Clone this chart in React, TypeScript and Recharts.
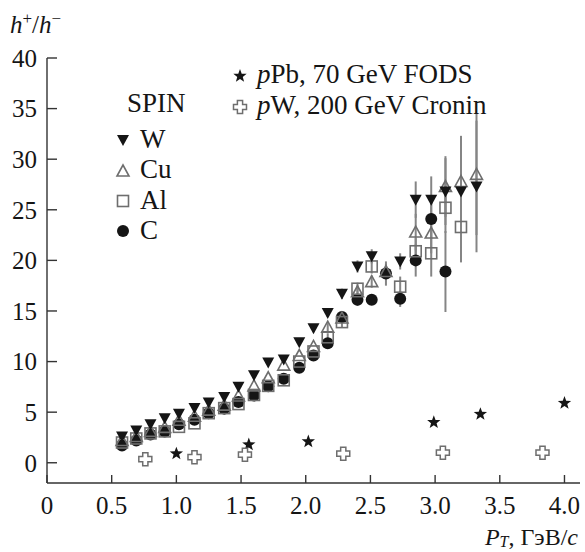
import { ScatterChart, Scatter, XAxis, YAxis, ErrorBar } from 'recharts';

// SPIN p_T bins, GeV/c
const ptSpin = [0.58, 0.69, 0.8, 0.91, 1.02, 1.14, 1.25, 1.37, 1.48, 1.6, 1.71, 1.83, 1.95, 2.06, 2.17, 2.28, 2.4, 2.51, 2.62, 2.73, 2.85, 2.97, 3.08, 3.2, 3.32];

const ratioW = [2.6, 3.2, 3.8, 4.4, 4.85, 5.4, 5.95, 6.5, 7.5, 8.65, 9.9, 10.2, 11.9, 13.3, 14.8, 16.7, 19.4, 20.4, null, 19.9, 26.0, 26.0, 26.8, 26.8, 27.3];
const ratioCu = [2.2, 2.6, 3.1, 3.5, 4.2, 4.6, 5.2, 5.7, 6.6, 7.6, 8.4, 9.65, 10.6, 11.5, 13.4, 14.3, 16.9, 17.9, 18.9, null, 22.8, 22.7, 27.3, 27.8, 28.5];
const ratioAl = [2.0, 2.4, 2.9, 3.1, 3.55, 3.9, 4.9, 5.4, 5.8, 6.7, 7.6, 8.15, 10.0, 11.0, 12.4, 13.9, 17.2, 19.4, null, 17.4, 20.9, 20.7, 25.2, 23.3, null];
const ratioC = [1.7, 2.2, 2.8, 3.1, 3.8, 4.25, 4.9, 5.35, 6.0, 6.65, 7.55, 8.3, 9.4, 10.6, 11.8, 14.4, 16.1, 16.1, 18.7, 16.2, 20.0, 24.1, 18.9, null, null];

const errW = [0, 0, 0, 0, 0, 0, 0, 0, 0, 0, 0, 0, 0, 0, 0.4, 0.5, 0.6, 0.7, 0, 0.8, 1.8, 2.3, 3.3, 5.5, 6.5];
const errCu = [0, 0, 0, 0, 0, 0, 0, 0, 0, 0, 0, 0, 0, 0, 0.4, 0.5, 0.6, 0.6, 0.8, 0, 1.8, 2.0, 3.0, 4.5, 6.0];
const errAl = [0, 0, 0, 0, 0, 0, 0, 0, 0, 0, 0, 0, 0, 0, 0.4, 0.5, 0.6, 0.7, 0, 1.0, 1.3, 2.3, 2.5, 3.5, 0];
const errC = [0, 0, 0, 0, 0, 0, 0, 0, 0, 0, 0, 0, 0, 0, 0.4, 0.5, 0.6, 0.5, 1.2, 0.8, 1.6, 2.0, 4.0, 0, 0];

// pPb 70 GeV FODS
const ptFods = [1.0, 1.56, 2.02, 2.99, 3.35, 4.0];
const ratioFods = [0.9, 1.8, 2.1, 4.0, 4.8, 5.9];

// pW 200 GeV Cronin
const ptCronin = [0.76, 1.14, 1.53, 2.29, 3.06, 3.83];
const ratioCronin = [0.35, 0.55, 0.8, 0.9, 1.0, 1.0];

const xTicks = [0, 0.5, 1, 1.5, 2, 2.5, 3, 3.5, 4];
const yTicks = [0, 5, 10, 15, 20, 25, 30, 35, 40];

const INK = '#151515';
const GREY = '#6e6e6e';
const FONT = "'Liberation Serif', 'DejaVu Serif', serif";

function spinSeries(ys: (number | null)[], errs: number[]) {
  return ptSpin.flatMap((pt, i) => (ys[i] == null ? [] : [{ pt, ratio: ys[i], err: errs[i] }]));
}
function plain(xs: number[], ys: number[]) {
  return xs.map((pt, i) => ({ pt, ratio: ys[i] }));
}

const DownTri = ({ cx, cy }: any) => (
  <path d={`M${cx - 6},${cy - 5} L${cx + 6},${cy - 5} L${cx},${cy + 6} Z`} fill={INK} />
);
const UpTri = ({ cx, cy }: any) => (
  <path d={`M${cx - 6},${cy + 5} L${cx + 6},${cy + 5} L${cx},${cy - 6} Z`} fill="none" stroke={GREY} strokeWidth={1.6} />
);
const Square = ({ cx, cy }: any) => (
  <rect x={cx - 5.5} y={cy - 5.5} width={11} height={11} fill="none" stroke={GREY} strokeWidth={1.6} />
);
const Dot = ({ cx, cy }: any) => <circle cx={cx} cy={cy} r={6} fill={INK} />;

const Star = ({ cx, cy }: any) => {
  const pts: string[] = [];
  for (let k = 0; k < 10; k++) {
    const r = k % 2 === 0 ? 7 : 2.9;
    const a = -Math.PI / 2 + (k * Math.PI) / 5;
    pts.push(`${cx + r * Math.cos(a)},${cy + r * Math.sin(a)}`);
  }
  return <polygon points={pts.join(' ')} fill={INK} />;
};
const Cross = ({ cx, cy }: any) => {
  const a = 2.6, b = 6.5;
  const d = `M${cx - a},${cy - b} H${cx + a} V${cy - a} H${cx + b} V${cy + a} H${cx + a} V${cy + b} H${cx - a} V${cy + a} H${cx - b} V${cy - a} H${cx - a} Z`;
  return <path d={d} fill="#fff" stroke={GREY} strokeWidth={1.5} />;
};

const tickStyle = { fill: INK, fontSize: 25, fontFamily: FONT };
const lineStyle = { stroke: '#333', strokeWidth: 1.4 };

export default function App() {
  return (
    <div style={{ position: 'relative', width: 585, height: 552, fontFamily: FONT, color: INK }}>
      <style>{'body{margin:0}'}</style>
      <ScatterChart width={585} height={552} margin={{ top: 58, right: 5, bottom: 38, left: 7 }}>
        <XAxis
          type="number"
          dataKey="pt"
          domain={[0, 4.12]}
          ticks={xTicks}
          allowDataOverflow
          height={31}
          tickFormatter={(v: number) => (v === 0 ? '0' : v.toFixed(1))}
          tick={tickStyle}
          tickSize={-8}
          tickMargin={21}
          axisLine={lineStyle}
          tickLine={lineStyle}
        />
        <YAxis
          type="number"
          dataKey="ratio"
          domain={[-2, 40]}
          ticks={yTicks}
          allowDataOverflow
          width={40}
          tick={tickStyle}
          tickSize={-10}
          tickMargin={20}
          axisLine={lineStyle}
          tickLine={lineStyle}
        />
        <Scatter data={spinSeries(ratioC, errC)} shape={Dot} isAnimationActive={false}>
          <ErrorBar dataKey="err" direction="y" width={0} stroke="#858585" strokeWidth={2} />
        </Scatter>
        <Scatter data={spinSeries(ratioAl, errAl)} shape={Square} isAnimationActive={false}>
          <ErrorBar dataKey="err" direction="y" width={0} stroke="#858585" strokeWidth={2} />
        </Scatter>
        <Scatter data={spinSeries(ratioCu, errCu)} shape={UpTri} isAnimationActive={false}>
          <ErrorBar dataKey="err" direction="y" width={0} stroke="#858585" strokeWidth={2} />
        </Scatter>
        <Scatter data={spinSeries(ratioW, errW)} shape={DownTri} isAnimationActive={false}>
          <ErrorBar dataKey="err" direction="y" width={0} stroke="#858585" strokeWidth={2} />
        </Scatter>
        <Scatter data={plain(ptFods, ratioFods)} shape={Star} isAnimationActive={false} />
        <Scatter data={plain(ptCronin, ratioCronin)} shape={Cross} isAnimationActive={false} />
      </ScatterChart>

      <svg width={585} height={552} style={{ position: 'absolute', left: 0, top: 0, pointerEvents: 'none' }}>
        <g fontFamily={FONT} fill={INK}>
          <text x={10} y={33} fontSize={25}>
            <tspan fontStyle="italic">h</tspan>
            <tspan fontSize={17} dy={-9}>+</tspan>
            <tspan dy={9}>/</tspan>
            <tspan fontStyle="italic">h</tspan>
            <tspan fontSize={17} dy={-9}>−</tspan>
          </text>

          <Star cx={240} cy={76} />
          <text x={257} y={83} fontSize={27}>
            <tspan fontStyle="italic">p</tspan>Pb, 70 GeV FODS
          </text>
          <Cross cx={240} cy={107} />
          <text x={257} y={114} fontSize={27}>
            <tspan fontStyle="italic">p</tspan>W, 200 GeV Cronin
          </text>

          <text x={127} y={112} fontSize={27}>SPIN</text>
          <DownTri cx={123} cy={140} />
          <text x={140} y={148} fontSize={27}>W</text>
          <UpTri cx={123} cy={171} />
          <text x={140} y={178} fontSize={27}>Cu</text>
          <Square cx={123} cy={201} />
          <text x={140} y={209} fontSize={27}>Al</text>
          <Dot cx={123} cy={231} />
          <text x={140} y={239} fontSize={27}>C</text>

          <text x={578} y={545} fontSize={24} textAnchor="end">
            <tspan fontStyle="italic">P</tspan>
            <tspan fontStyle="italic" fontSize={16} dy={2}>T</tspan>
            <tspan dy={-2}>, ГэВ/</tspan>
            <tspan fontStyle="italic">c</tspan>
          </text>
        </g>
      </svg>
    </div>
  );
}
